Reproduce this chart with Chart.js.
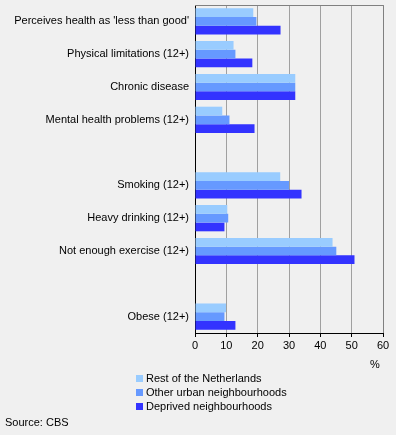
<!DOCTYPE html>
<html>
<head>
<meta charset="utf-8">
<script src="https://cdn.jsdelivr.net/npm/chart.js@4"></script>
<style>
  body { margin: 0; background: #f0f0f0; font-family: "Liberation Sans", Arial, sans-serif; font-size: 11px; }
  #wrap { position: relative; width: 396px; height: 435px; }
  .txt { position: absolute; line-height: 14px; color: #000; white-space: nowrap; }
  .box { display: inline-block; width: 7px; height: 7px; margin-right: 3px; vertical-align: 0px; }
</style>
</head>
<body>
<div id="wrap">
  <canvas id="chart" width="396" height="435"></canvas>
  <div class="txt" style="left:370px; top:357px;">%</div>
  <div class="txt" id="legend" style="left:136px; top:371px;"></div>
  <div class="txt" style="left:5px; top:415px;">Source: CBS</div>
</div>
<script>
const categories = [
  "Perceives health as 'less than good'",
  "Physical limitations (12+)",
  "Chronic disease",
  "Mental health problems (12+)",
  "",
  "Smoking (12+)",
  "Heavy drinking (12+)",
  "Not enough exercise (12+)",
  "",
  "Obese (12+)",
];
const seriesNames = ["Rest of the Netherlands", "Other urban neighbourhoods", "Deprived neighbourhoods"];
const restNL = [18.6, 12.3, 32, 8.7, null, 27.2, 10.3, 43.9, null, 9.9];
const otherUrban = [19.6, 12.9, 32, 11, null, 30, 10.6, 45.1, null, 9.4];
const deprived = [27.3, 18.3, 32, 19, null, 34, 9.4, 50.9, null, 12.9];
const xTicks = [0, 10, 20, 30, 40, 50, 60];
const colors = ["#99ccff", "#6699ff", "#3333ff"];

const seriesValues = [restNL, otherUrban, deprived];

// legend as plain text
document.getElementById("legend").innerHTML = seriesNames
  .map((n, i) => '<div><span class="box" style="background:' + colors[i] + '"></span>' + n + "</div>")
  .join("");

// grey frame on top and right of the plot
const framePlugin = {
  id: "frame",
  beforeDatasetsDraw(chart) {
    const { ctx, chartArea: a } = chart;
    ctx.save();
    ctx.strokeStyle = "#808080";
    ctx.lineWidth = 1;
    ctx.beginPath();
    ctx.moveTo(a.left, a.top + 0.5);
    ctx.lineTo(a.right + 0.5, a.top + 0.5);
    ctx.lineTo(a.right + 0.5, a.bottom);
    ctx.stroke();
    ctx.restore();
  },
};

new Chart(document.getElementById("chart"), {
  type: "bar",
  data: {
    labels: categories,
    datasets: seriesNames.map((name, i) => ({
      label: name,
      data: seriesValues[i],
      backgroundColor: colors[i],
      borderWidth: 0,
      categoryPercentage: 0.8,
      barPercentage: 1,
    })),
  },
  options: {
    indexAxis: "y",
    responsive: false,
    animation: false,
    layout: { padding: { top: 5, right: 13, bottom: 82, left: 0 } },
    plugins: { legend: { display: false }, tooltip: { enabled: false } },
    scales: {
      x: {
        min: 0,
        max: 60,
        afterBuildTicks: (scale) => { scale.ticks = xTicks.map((v) => ({ value: v })); },
        afterFit: (scale) => {
          scale.height = 20;
          scale.paddingLeft = 0;
          scale.paddingRight = 0;
        },
        grid: { color: "#a0a0a0", lineWidth: 1, tickColor: "#000", tickLength: 4 },
        border: { color: "#000", width: 1 },
        ticks: { color: "#000", font: { family: "Liberation Sans", size: 11 }, padding: 2, maxRotation: 0 },
      },
      y: {
        afterFit: (scale) => {
          scale.width = 195;
          scale.paddingTop = 0;
          scale.paddingBottom = 0;
        },
        grid: { display: false, drawTicks: false },
        border: { color: "#000", width: 1 },
        ticks: { color: "#000", font: { family: "Liberation Sans", size: 11 }, padding: 6, autoSkip: false },
      },
    },
  },
  plugins: [framePlugin],
});
</script>
</body>
</html>
